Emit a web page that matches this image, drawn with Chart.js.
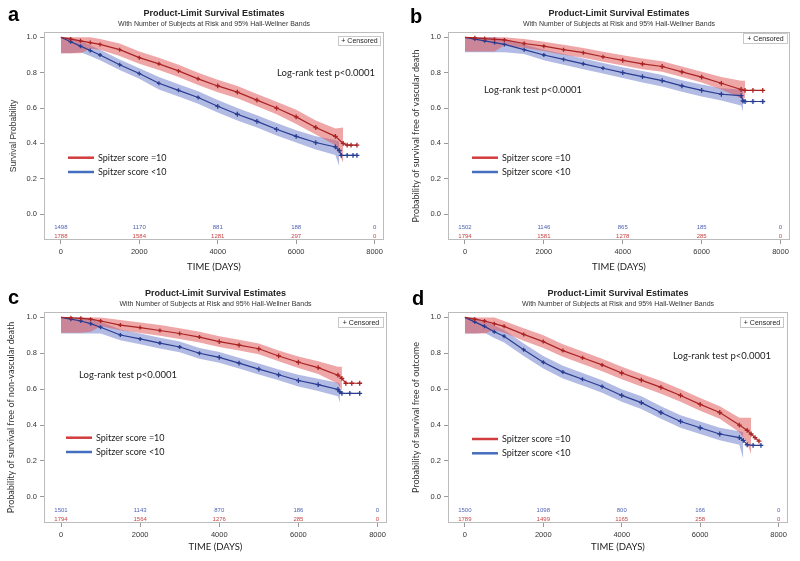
<!DOCTYPE html>
<html><head><meta charset="utf-8">
<script src="https://cdn.jsdelivr.net/npm/chart.js@4.4.1/dist/chart.umd.min.js"></script>
<style>
body{margin:0;background:#fff;width:800px;height:561px;position:relative;overflow:hidden}
.p{position:absolute;width:400px;height:280px}
canvas{display:block}
</style></head>
<body>
<div class="p" style="left:0;top:0"><canvas id="ca" width="400" height="280"></canvas></div>
<div class="p" style="left:400px;top:0"><canvas id="cb" width="400" height="280"></canvas></div>
<div class="p" style="left:0;top:280px"><canvas id="cc" width="400" height="280"></canvas></div>
<div class="p" style="left:400px;top:280px"><canvas id="cd" width="400" height="280"></canvas></div>
<script>
// ---------- shared texts / ticks ----------
const xTicks = [0, 2000, 4000, 6000, 8000];
const yTicks = [0, 0.2, 0.4, 0.6, 0.8, 1.0];
const seriesNames = ['Spitzer score =10', 'Spitzer score <10'];
const panelLetters = ['a', 'b', 'c', 'd'];
const yTitles = ['Survival Probability', 'Probability of survival free of vascular death',
  'Probability of survival free of non-vascular death', 'Probability of survival free of outcome'];
const titleText = 'Product-Limit Survival Estimates';
const subtitleText = 'With Number of Subjects at Risk and 95% Hall-Wellner Bands';
const xTitle = 'TIME (DAYS)';
const logRankText = 'Log-rank test p<0.0001';
const censoredText = '+ Censored';

// ---------- panel a ----------
const aRedTime  = [0,250,500,750,1000,1500,2000,2500,3000,3500,4000,4500,5000,5500,6000,6500,7000,7200,7300,7400,7550];
const aRedSurv  = [1.0,0.99,0.98,0.97,0.96,0.93,0.885,0.85,0.81,0.765,0.725,0.69,0.645,0.60,0.55,0.49,0.44,0.40,0.39,0.39,0.39];
const aRedUpper = [1.0,1.0,1.0,1.0,0.99,0.965,0.92,0.885,0.845,0.80,0.76,0.725,0.68,0.635,0.59,0.53,0.485,0.49,null,null,null];
const aRedLower = [0.91,0.91,0.91,0.935,0.93,0.895,0.85,0.815,0.775,0.73,0.69,0.655,0.61,0.565,0.51,0.45,0.39,0.29,null,null,null];
const aBlueTime  = [0,250,500,750,1000,1500,2000,2500,3000,3500,4000,4500,5000,5500,6000,6500,7000,7100,7150,7300,7450,7550];
const aBlueSurv  = [1.0,0.975,0.95,0.925,0.90,0.845,0.795,0.74,0.70,0.66,0.61,0.565,0.525,0.48,0.44,0.405,0.38,0.36,0.333,0.333,0.333,0.333];
const aBlueUpper = [1.0,1.0,0.98,0.955,0.93,0.875,0.825,0.775,0.735,0.695,0.645,0.60,0.56,0.515,0.475,0.44,0.42,0.41,null,null,null,null];
const aBlueLower = [0.91,0.91,0.915,0.895,0.87,0.815,0.765,0.705,0.665,0.625,0.575,0.53,0.49,0.445,0.405,0.365,0.335,0.27,null,null,null,null];
const aRiskBlue = [1498, 1170, 881, 188, 0];
const aRiskRed  = [1788, 1584, 1281, 297, 0];

// ---------- panel b ----------
const bRedTime  = [0,250,500,750,1000,1500,2000,2500,3000,3500,4000,4500,5000,5500,6000,6500,7000,7100,7300,7550];
const bRedSurv  = [1.0,0.997,0.993,0.988,0.985,0.965,0.95,0.93,0.913,0.89,0.87,0.85,0.835,0.805,0.775,0.74,0.705,0.70,0.70,0.70];
const bRedUpper = [1.0,1.0,1.0,1.0,1.0,0.99,0.975,0.958,0.94,0.918,0.898,0.88,0.865,0.835,0.805,0.775,0.755,0.755,null,null];
const bRedLower = [0.92,0.92,0.92,0.92,0.955,0.94,0.923,0.902,0.885,0.862,0.84,0.82,0.805,0.775,0.745,0.705,0.655,0.655,null,null];
const bBlueTime  = [0,250,500,750,1000,1500,2000,2500,3000,3500,4000,4500,5000,5500,6000,6500,7000,7050,7100,7300,7550];
const bBlueSurv  = [1.0,0.99,0.98,0.97,0.96,0.93,0.90,0.875,0.85,0.825,0.80,0.778,0.755,0.725,0.70,0.678,0.67,0.64,0.637,0.637,0.637];
const bBlueUpper = [1.0,1.0,1.0,1.0,0.99,0.96,0.93,0.905,0.88,0.855,0.83,0.81,0.787,0.757,0.733,0.712,0.705,0.70,null,null,null];
const bBlueLower = [0.915,0.915,0.915,0.915,0.915,0.905,0.87,0.845,0.82,0.795,0.77,0.745,0.722,0.692,0.666,0.643,0.615,0.58,null,null,null];
const bRiskBlue = [1502, 1146, 865, 185, 0];
const bRiskRed  = [1794, 1581, 1278, 285, 0];

// ---------- panel c ----------
const cRedTime  = [0,250,500,750,1000,1500,2000,2500,3000,3500,4000,4500,5000,5500,6000,6500,7000,7100,7200,7350,7550];
const cRedSurv  = [1.0,0.998,0.995,0.99,0.98,0.957,0.943,0.927,0.91,0.89,0.865,0.845,0.825,0.785,0.75,0.72,0.678,0.66,0.633,0.633,0.633];
const cRedUpper = [1.0,1.0,1.0,1.0,1.0,0.985,0.972,0.957,0.94,0.92,0.895,0.875,0.855,0.815,0.782,0.755,0.725,0.725,null,null,null];
const cRedLower = [0.915,0.915,0.915,0.92,0.95,0.928,0.913,0.897,0.88,0.86,0.835,0.815,0.795,0.755,0.718,0.685,0.63,0.59,null,null,null];
const cBlueTime  = [0,250,500,750,1000,1500,2000,2500,3000,3500,4000,4500,5000,5500,6000,6500,7000,7050,7100,7300,7550];
const cBlueSurv  = [1.0,0.99,0.98,0.965,0.945,0.902,0.88,0.857,0.835,0.80,0.777,0.745,0.712,0.68,0.648,0.625,0.598,0.585,0.577,0.577,0.577];
const cBlueUpper = [1.0,1.0,1.0,0.995,0.975,0.932,0.91,0.887,0.865,0.83,0.807,0.775,0.743,0.71,0.68,0.658,0.635,0.63,null,null,null];
const cBlueLower = [0.91,0.91,0.91,0.91,0.91,0.872,0.85,0.827,0.805,0.77,0.747,0.715,0.682,0.65,0.615,0.59,0.56,0.525,null,null,null];
const cRiskBlue = [1501, 1143, 870, 186, 0];
const cRiskRed  = [1794, 1564, 1276, 285, 0];

// ---------- panel d ----------
const dRedTime  = [0,250,500,750,1000,1500,2000,2500,3000,3500,4000,4500,5000,5500,6000,6500,7000,7200,7300,7400,7500];
const dRedSurv  = [1.0,0.99,0.98,0.965,0.95,0.905,0.865,0.815,0.775,0.735,0.69,0.65,0.61,0.565,0.515,0.47,0.40,0.37,0.35,0.33,0.31];
const dRedUpper = [1.0,1.0,1.0,1.0,0.98,0.94,0.90,0.85,0.81,0.77,0.725,0.685,0.645,0.60,0.55,0.505,0.44,0.44,0.44,null,null];
const dRedLower = [0.91,0.91,0.91,0.93,0.915,0.87,0.83,0.78,0.74,0.70,0.655,0.615,0.575,0.53,0.48,0.435,0.36,0.30,0.236,null,null];
const dBlueTime  = [0,250,500,750,1000,1500,2000,2500,3000,3500,4000,4500,5000,5500,6000,6500,7000,7100,7200,7350,7550];
const dBlueSurv  = [1.0,0.975,0.95,0.92,0.895,0.82,0.75,0.695,0.655,0.615,0.565,0.525,0.47,0.42,0.385,0.35,0.33,0.315,0.29,0.287,0.287];
const dBlueUpper = [1.0,1.0,0.98,0.955,0.93,0.855,0.785,0.73,0.69,0.65,0.60,0.56,0.505,0.455,0.42,0.385,0.365,0.36,null,null,null];
const dBlueLower = [0.91,0.91,0.915,0.885,0.86,0.785,0.715,0.66,0.62,0.58,0.53,0.49,0.435,0.385,0.35,0.315,0.29,0.21,null,null,null];
const dRiskBlue = [1500, 1098, 800, 166, 0];
const dRiskRed  = [1789, 1499, 1165, 258, 0];

// ---------- styling / layout (not data) ----------
const RED_LINE = 'rgb(170,35,35)', BLUE_LINE = 'rgb(40,60,145)';
const RED_BAND = 'rgba(225,85,85,0.52)', BLUE_BAND = 'rgba(100,120,200,0.5)';
const RED_LEG = 'rgb(210,60,60)', BLUE_LEG = 'rgb(70,110,190)';
const RED_TXT = 'rgb(200,70,70)', BLUE_TXT = 'rgb(80,100,180)';
const ARIAL = '"Liberation Sans", Arial, sans-serif';
const CAL = 'Lato, "Open Sans", sans-serif';

const panels = [
  {id:'ca', red:[aRedTime,aRedSurv,aRedUpper,aRedLower], blue:[aBlueTime,aBlueSurv,aBlueUpper,aBlueLower], risk:[aRiskBlue,aRiskRed],
   lay:{left:44,right:384,bottom:240, yTitleFont:{family:ARIAL,size:8.5}, yTitlePad:9, letter:[8,21], logrank:[277,73], legend:[68,157.7], cens:[338,36,42,9]}},
  {id:'cb', red:[bRedTime,bRedSurv,bRedUpper,bRedLower], blue:[bBlueTime,bBlueSurv,bBlueUpper,bBlueLower], risk:[bRiskBlue,bRiskRed],
   lay:{left:48,right:390,bottom:240, yTitleFont:{family:CAL,size:9}, yTitlePad:11, letter:[10,23], logrank:[84,90], legend:[72,157.7], cens:[343,33,44,10]}},
  {id:'cc', red:[cRedTime,cRedSurv,cRedUpper,cRedLower], blue:[cBlueTime,cBlueSurv,cBlueUpper,cBlueLower], risk:[cRiskBlue,cRiskRed],
   lay:{left:44,right:387,bottom:243, yTitleFont:{family:CAL,size:9}, yTitlePad:6, letter:[8,24], logrank:[79,95], legend:[66,157.7], cens:[338,37,45,10]}},
  {id:'cd', red:[dRedTime,dRedSurv,dRedUpper,dRedLower], blue:[dBlueTime,dBlueSurv,dBlueUpper,dBlueLower], risk:[dRiskBlue,dRiskRed],
   lay:{left:48,right:388,bottom:243, yTitleFont:{family:CAL,size:9}, yTitlePad:11, letter:[12,25], logrank:[273,76], legend:[72,159], cens:[340,37,43,10]}}
];

const pts = (T, V) => T.map((t, i) => ({x: t, y: V[i]}));

const decor = {
  id: 'decor',
  afterDraw(chart, args, o) {
    const {ctx, chartArea: ca, scales} = chart;
    const lay = o.lay, idx = o.idx, risk = o.risk;
    ctx.save();
    ctx.strokeStyle = '#bcbcbc'; ctx.lineWidth = 1;
    ctx.strokeRect(Math.round(ca.left) + 0.5, Math.round(ca.top) + 0.5, Math.round(ca.right - ca.left) - 1, Math.round(ca.bottom - ca.top) - 1);
    ctx.font = '6px ' + ARIAL; ctx.textAlign = 'center'; ctx.textBaseline = 'middle';
    xTicks.forEach((t, i) => {
      const x = scales.x.getPixelForValue(t);
      ctx.fillStyle = BLUE_TXT; ctx.fillText(String(risk[0][i]), x, ca.bottom - 12.5);
      ctx.fillStyle = RED_TXT; ctx.fillText(String(risk[1][i]), x, ca.bottom - 3.8);
    });
    ctx.font = '9.5px ' + CAL; ctx.textAlign = 'left'; ctx.fillStyle = '#222';
    ctx.fillText(logRankText, lay.logrank[0], lay.logrank[1]);
    const [lx, ly] = lay.legend;
    [[RED_LEG, seriesNames[0], 0], [BLUE_LEG, seriesNames[1], 14.3]].forEach(([c, txt, dy]) => {
      ctx.strokeStyle = c; ctx.lineWidth = 2.5;
      ctx.beginPath(); ctx.moveTo(lx, ly + dy); ctx.lineTo(lx + 26, ly + dy); ctx.stroke();
      ctx.fillStyle = '#222'; ctx.font = '9px ' + CAL;
      ctx.fillText(txt, lx + 30, ly + dy);
    });
    const [cx, cy, cw, ch] = lay.cens;
    ctx.strokeStyle = '#c8c8c8'; ctx.lineWidth = 1;
    ctx.strokeRect(cx + 0.5, cy + 0.5, cw, ch);
    ctx.fillStyle = '#222'; ctx.font = '7px ' + ARIAL; ctx.textAlign = 'center';
    ctx.fillText(censoredText, cx + cw / 2 + 0.5, cy + ch / 2 + 1);
    ctx.font = 'bold 20px ' + ARIAL; ctx.textAlign = 'left'; ctx.textBaseline = 'alphabetic'; ctx.fillStyle = '#000';
    ctx.fillText(panelLetters[idx], lay.letter[0], lay.letter[1]);
    ctx.restore();
  }
};

panels.forEach((p, idx) => {
  const lay = p.lay;
  const curve = (s, color) => ({
    data: pts(s[0], s[1]), borderColor: color, borderWidth: 1.2, tension: 0, fill: false,
    pointStyle: 'cross', pointBorderColor: color, pointBorderWidth: 1.3,
    pointRadius: c => c.dataIndex === 0 ? 0 : (c.dataIndex > 9 ? 2.4 : 2)
  });
  const band = (T, V, color, fill) => ({
    data: pts(T, V), borderWidth: 0, borderColor: 'rgba(0,0,0,0)', pointRadius: 0, tension: 0,
    backgroundColor: color, fill: fill
  });
  new Chart(document.getElementById(p.id), {
    type: 'line',
    data: {datasets: [
      curve(p.red, RED_LINE),
      curve(p.blue, BLUE_LINE),
      band(p.red[0], p.red[2], RED_BAND, '+1'),
      band(p.red[0], p.red[3], RED_BAND, false),
      band(p.blue[0], p.blue[2], BLUE_BAND, '+1'),
      band(p.blue[0], p.blue[3], BLUE_BAND, false)
    ]},
    options: {
      responsive: false, animation: false, events: [], spanGaps: false,
      layout: {padding: {left: 0, right: 400 - lay.right, top: 0, bottom: 0}},
      plugins: {
        legend: {display: false}, tooltip: {enabled: false},
        filler: {drawTime: 'beforeDatasetsDraw'},
        title: {display: true, text: titleText, fullSize: false, color: '#222',
          font: {family: ARIAL, size: 9, weight: 'bold', lineHeight: 1.2}, padding: {top: 8, bottom: 1}},
        subtitle: {display: true, text: subtitleText, fullSize: false, color: '#333',
          font: {family: ARIAL, size: 7, lineHeight: 1.2}, padding: {top: 0, bottom: 3.8}},
        decor: {lay: lay, idx: idx, risk: p.risk}
      },
      scales: {
        x: {
          type: 'linear', min: -430, max: 8240,
          afterBuildTicks: s => { s.ticks = xTicks.map(v => ({value: v})); },
          afterFit: s => { s.height = 280 - lay.bottom; },
          ticks: {font: {family: ARIAL, size: 7.5}, color: '#333', padding: 3, maxRotation: 0, autoSkip: false,
            callback: v => String(v)},
          grid: {display: true, drawOnChartArea: false, drawTicks: true, tickLength: 4, color: '#9a9a9a'},
          border: {display: false},
          title: {display: true, text: xTitle, color: '#222', font: {family: CAL, size: 9.5}, padding: {top: 0, bottom: 7}}
        },
        y: {
          type: 'linear', min: -0.146, max: 1.03,
          afterBuildTicks: s => { s.ticks = yTicks.map(v => ({value: v})); },
          afterFit: s => { s.width = lay.left; },
          ticks: {font: {family: ARIAL, size: 7.5}, color: '#333', padding: 3, callback: v => v.toFixed(1)},
          grid: {display: true, drawOnChartArea: false, drawTicks: true, tickLength: 4, color: '#9a9a9a'},
          border: {display: false},
          title: {display: true, text: yTitles[idx], color: '#333', font: lay.yTitleFont, padding: {top: lay.yTitlePad, bottom: 0}}
        }
      }
    },
    plugins: [decor]
  });
});
</script>
</body></html>
